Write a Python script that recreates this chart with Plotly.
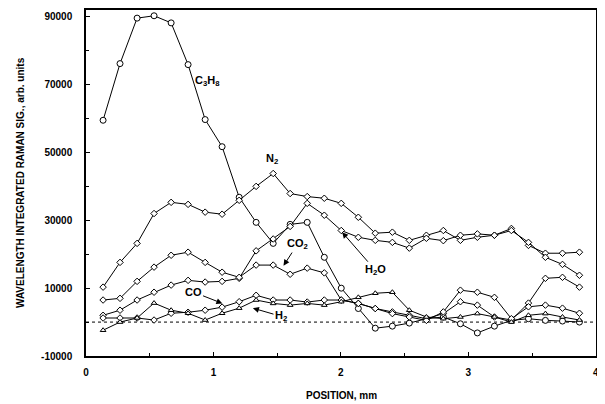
import plotly.graph_objects as go

position_mm = [0.134, 0.267, 0.401, 0.534, 0.668, 0.801, 0.935, 1.068, 1.202, 1.335,
               1.469, 1.602, 1.736, 1.870, 2.003, 2.137, 2.270, 2.404, 2.537, 2.671,
               2.804, 2.938, 3.071, 3.205, 3.338, 3.472, 3.605, 3.739, 3.872]

c3h8 = [59500, 76200, 89600, 90300, 88200, 75900, 59700, 51700, 36800, 29400,
        23200, 28800, 29400, 19100, 10000, 4000, -1800, -1200, -300, 1000,
        1500, -500, -3200, -1200, 500, 1000, 500, 300, 0]
n2 = [10300, 17600, 23200, 32000, 35300, 34700, 32400, 31800, 35900, 40000,
      43800, 37900, 37000, 36500, 35000, 30900, 26200, 26500, 24100, 25600,
      27000, 24100, 25000, 25600, 27600, 22600, 20300, 20300, 20600]
h2o = [2000, 3500, 6500, 8800, 10900, 12300, 11800, 12000, 12900, 21000,
       24500, 28200, 35000, 31500, 27000, 25000, 24100, 23500, 21800, 24700,
       24000, 25600, 26000, 25600, 27000, 23500, 19100, 17000, 13800]
co2 = [6500, 7000, 12000, 16200, 19700, 20600, 17600, 14700, 13200, 16800,
       16800, 14100, 15900, 14500, 6500, 5500, 4000, 3000, 2000, 1000,
       2500, 6000, 5000, 1500, 600, 5600, 12900, 13200, 10300]
co = [1200, 1200, 1200, 600, 2600, 2900, 3500, 4400, 6000, 7900,
      6500, 6500, 5900, 6500, 6500, 5500, 4000, 2500, 1500, 500,
      3000, 9400, 8800, 7300, 1000, 4500, 5000, 4100, 2600]
h2 = [-2400, 0, 1200, 5600, 3500, 2600, 600, 2600, 4100, 6500,
      5500, 5000, 5500, 5000, 6000, 7300, 8500, 8800, 3500, 1500,
      1000, 1500, 2500, 1500, 0, 2000, 2500, 1500, 600]

x_ticks = [0, 1, 2, 3, 4]
y_ticks = [-10000, 10000, 30000, 50000, 70000, 90000]

series = [
    ("C3H8", c3h8, "circle", 6),
    ("N2", n2, "diamond", 5),
    ("H2O", h2o, "diamond", 5),
    ("CO2", co2, "diamond", 5),
    ("CO", co, "diamond", 5),
    ("H2", h2, "triangle-up", 5),
]

fig = go.Figure()
for name, vals, sym, sz in series:
    fig.add_trace(go.Scatter(
        x=position_mm, y=vals, mode="lines+markers", name=name,
        line=dict(color="black", width=1),
        marker=dict(symbol=sym, size=sz, color="white",
                    line=dict(color="black", width=1)),
        showlegend=False, cliponaxis=False,
    ))

fig.add_shape(type="line", xref="x", yref="y", x0=0, x1=4, y0=0, y1=0,
              line=dict(color="black", width=1, dash="dot"), layer="below")

font_lbl = dict(family="Liberation Sans, Arial, sans-serif", size=11, color="black")
fig.add_annotation(x=0.95, y=71100, text="<b>C<sub>3</sub>H<sub>8</sub></b>",
                   showarrow=False, font=font_lbl)
fig.add_annotation(x=1.46, y=48200, text="<b>N<sub>2</sub></b>",
                   showarrow=False, font=font_lbl)
arrows = [
    ("<b>CO<sub>2</sub></b>", 1.55, 16600, 1.66, 23000),
    ("<b>H<sub>2</sub>O</b>", 2.01, 26500, 2.27, 15300),
    ("<b>CO</b>", 1.07, 5500, 0.84, 8900),
    ("<b>H<sub>2</sub></b>", 1.31, 4100, 1.53, 1700),
]
for txt, xt, yt, xa, ya in arrows:
    fig.add_annotation(x=xt, y=yt, ax=xa, ay=ya, axref="x", ayref="y",
                       text=txt, showarrow=True, arrowhead=2, arrowsize=1.2,
                       arrowwidth=1, arrowcolor="black", font=font_lbl)

axis_font = dict(family="Liberation Sans, Arial, sans-serif", size=10, color="black")

# axis titles as paper-anchored annotations
fig.add_annotation(xref="paper", yref="paper", x=0.5, y=0, yshift=-39,
                   text="<b>POSITION, mm</b>", showarrow=False, font=axis_font,
                   xanchor="center", yanchor="middle")
fig.add_annotation(xref="paper", yref="paper", x=0, y=0.5, xshift=-66,
                   text="<b>WAVELENGTH INTEGRATED RAMAN SIG., arb. units</b>",
                   textangle=-90, showarrow=False, font=axis_font,
                   xanchor="center", yanchor="middle")

fig.update_xaxes(range=[0, 4.002], tickvals=x_ticks,
                 ticktext=["<b>%d</b>" % v for v in x_ticks],
                 ticks="inside", ticklen=4, tickcolor="black",
                 minor=dict(dtick=0.5, ticks="inside", ticklen=3, tickcolor="black"),
                 showline=True, linecolor="black", linewidth=1.5, mirror=True,
                 showgrid=False, zeroline=False, tickfont=axis_font, automargin=False,
                 ticklabelstandoff=6)
fig.update_yaxes(range=[-10000, 92000], tickvals=y_ticks,
                 ticktext=["<b>%d</b>" % v for v in y_ticks],
                 ticks="inside", ticklen=4, tickcolor="black",
                 minor=dict(tickvals=[0, 20000, 40000, 60000, 80000], ticks="inside",
                            ticklen=3, tickcolor="black"),
                 showline=True, linecolor="black", linewidth=1.5, mirror=True,
                 showgrid=False, zeroline=False, tickfont=axis_font, automargin=False,
                 ticklabelstandoff=10)

# page body keeps its default 8px margin, so the figure is sized to fill the window
fig.update_layout(width=597, height=396, margin=dict(l=78, r=9, t=2, b=48),
                  plot_bgcolor="white", paper_bgcolor="white")
fig.write_html("out.html")
